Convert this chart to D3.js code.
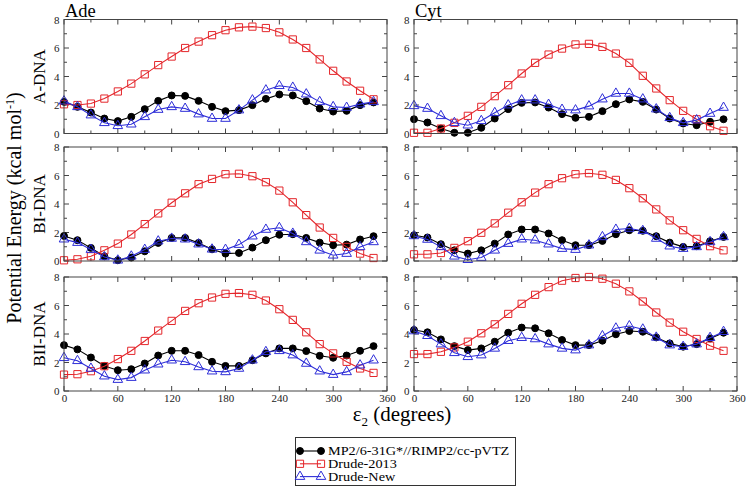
<!DOCTYPE html>
<html>
<head>
<meta charset="utf-8">
<script src="https://cdn.jsdelivr.net/npm/d3@7"></script>
<style>
  html, body { margin: 0; padding: 0; background: #fff; }
  svg { display: block; }
  svg text { font-family: "Liberation Serif", "Times New Roman", "DejaVu Serif", serif !important; }
</style>
</head>
<body>
<svg id="chart" width="750" height="490"></svg>
<script>
// ---------------- DATA ----------------
const angles = [0,15,30,45,60,75,90,105,120,135,150,165,180,195,210,225,240,255,270,285,300,315,330,345];
const xTicks = [0,60,120,180,240,300,360];
const yTicks = [0,2,4,6,8];
const bases = ["Ade", "Cyt"];
const forms = ["A-DNA", "BI-DNA", "BII-DNA"];
const seriesNames = ["MP2/6-31G*//RIMP2/cc-pVTZ", "Drude-2013", "Drude-New"];

// Ade, A-DNA
const adeA_mp2 = [2.22,1.87,1.47,1.05,0.87,1.17,1.71,2.29,2.67,2.64,2.29,1.87,1.57,1.64,1.99,2.43,2.74,2.67,2.27,1.75,1.54,1.59,1.99,2.18];
const adeA_d13 = [2.05,2.0,2.1,2.45,2.95,3.5,4.15,4.8,5.4,6.0,6.45,6.9,7.25,7.45,7.5,7.4,7.1,6.6,6.0,5.2,4.4,3.65,3.0,2.4];
const adeA_new = [2.27,1.87,1.29,0.75,0.54,0.65,1.17,1.68,1.87,1.75,1.36,1.05,1.05,1.64,2.34,3.04,3.35,3.23,2.76,2.22,1.87,1.82,2.06,2.22];
// Cyt, A-DNA
const cytA_mp2 = [1.0,0.77,0.35,0.05,0.05,0.4,1.05,1.71,2.15,2.18,1.82,1.36,1.1,1.17,1.57,2.06,2.39,2.22,1.68,1.05,0.7,0.58,0.82,1.0];
const cytA_d13 = [0.05,0.05,0.35,0.75,1.24,1.87,2.62,3.39,4.21,4.96,5.54,5.96,6.25,6.29,6.08,5.61,4.96,4.05,3.16,2.34,1.59,1.0,0.51,0.19];
const cytA_new = [1.94,1.75,1.24,0.75,0.58,0.89,1.45,1.99,2.34,2.34,2.03,1.68,1.64,1.92,2.41,2.81,2.81,2.41,1.71,1.1,0.75,0.94,1.4,1.82];
// Ade, BI-DNA
const adeBI_mp2 = [1.76,1.46,0.92,0.33,0.05,0.24,0.68,1.27,1.62,1.62,1.27,0.82,0.52,0.56,0.94,1.46,1.84,1.88,1.62,1.29,1.11,1.15,1.51,1.74];
const adeBI_d13 = [0.05,0.12,0.33,0.75,1.22,1.86,2.59,3.34,4.09,4.75,5.39,5.76,6.09,6.12,5.95,5.53,4.94,4.12,3.22,2.35,1.62,0.99,0.52,0.21];
const adeBI_new = [1.53,1.29,0.8,0.28,0.05,0.33,0.8,1.39,1.58,1.53,1.18,0.82,0.8,1.15,1.74,2.21,2.33,1.93,1.34,0.75,0.4,0.52,0.99,1.34];
// Cyt, BI-DNA
const cytBI_mp2 = [1.81,1.65,1.18,0.75,0.52,0.75,1.22,1.86,2.21,2.21,1.93,1.46,1.11,1.11,1.41,1.88,2.16,2.12,1.74,1.29,0.99,1.04,1.39,1.69];
const cytBI_d13 = [0.47,0.47,0.56,0.92,1.39,1.98,2.64,3.39,4.12,4.8,5.39,5.81,6.09,6.16,6.05,5.69,5.11,4.4,3.62,2.85,2.16,1.55,1.04,0.75];
const cytBI_new = [1.76,1.51,0.99,0.33,0.09,0.24,0.75,1.22,1.53,1.46,1.18,0.87,0.8,1.11,1.69,2.21,2.28,2.12,1.58,1.04,0.87,0.99,1.34,1.69];
// Ade, BII-DNA
const adeBII_mp2 = [3.22,2.92,2.35,1.76,1.46,1.53,1.93,2.49,2.82,2.82,2.52,2.05,1.76,1.76,2.16,2.64,2.99,2.99,2.8,2.47,2.33,2.49,2.82,3.15];
const adeBII_d13 = [1.15,1.18,1.39,1.74,2.24,2.82,3.51,4.24,4.92,5.62,6.16,6.56,6.82,6.87,6.75,6.35,5.74,4.99,4.12,3.29,2.64,2.05,1.58,1.27];
const adeBII_new = [2.33,2.12,1.58,1.04,0.8,0.94,1.46,1.88,2.16,2.05,1.69,1.39,1.34,1.58,2.16,2.75,2.82,2.52,1.93,1.39,1.15,1.34,1.81,2.16];
// Cyt, BII-DNA
const cytBII_mp2 = [4.28,4.12,3.62,3.15,2.87,2.99,3.46,4.09,4.45,4.4,4.05,3.58,3.22,3.22,3.53,3.98,4.21,4.16,3.76,3.34,3.11,3.29,3.69,4.09];
const cytBII_d13 = [2.59,2.59,2.75,3.06,3.46,4.05,4.68,5.41,6.12,6.75,7.29,7.74,7.93,8.0,7.88,7.53,6.99,6.28,5.51,4.8,4.16,3.65,3.18,2.82];
const cytBII_new = [4.21,3.88,3.29,2.68,2.4,2.52,2.99,3.53,3.74,3.65,3.29,2.99,2.87,3.22,3.86,4.4,4.56,4.33,3.76,3.22,3.11,3.29,3.74,4.16];

// ---------------- LAYOUT / STYLE ----------------
const svg = d3.select("#chart");
const colX = [64, 414];
const rowY = [19.5, 147, 277];
const pw = 323, ph = 114;
const colors = ["#000000", "#e4262b", "#2e2ed8"];
const symbols = [d3.symbolCircle, d3.symbolSquare, d3.symbolTriangle];
const symSizes = [38, 52, 40];
const symFill = ["#000000", "none", "none"];

const panels = [
  { col: 0, row: 0, data: [adeA_mp2, adeA_d13, adeA_new] },
  { col: 1, row: 0, data: [cytA_mp2, cytA_d13, cytA_new] },
  { col: 0, row: 1, data: [adeBI_mp2, adeBI_d13, adeBI_new] },
  { col: 1, row: 1, data: [cytBI_mp2, cytBI_d13, cytBI_new] },
  { col: 0, row: 2, data: [adeBII_mp2, adeBII_d13, adeBII_new] },
  { col: 1, row: 2, data: [cytBII_mp2, cytBII_d13, cytBII_new] }
];

const x = d3.scaleLinear().domain([0, 360]).range([0, pw]);
const y = d3.scaleLinear().domain([0, 8]).range([ph, 0]);
const xMinor = d3.range(0, 361, 30);
const yMinor = d3.range(0, 8.01, 1);
const frameColor = "#444";

panels.forEach(p => {
  const g = svg.append("g").attr("transform", `translate(${colX[p.col]},${rowY[p.row]})`);

  // inward ticks on all four sides
  const tg = g.append("g").attr("stroke", frameColor).attr("stroke-width", 1);
  xMinor.forEach(v => {
    const len = (v % 60 === 0) ? 5 : 3;
    tg.append("line").attr("x1", x(v)).attr("x2", x(v)).attr("y1", ph).attr("y2", ph - len);
    tg.append("line").attr("x1", x(v)).attr("x2", x(v)).attr("y1", 0).attr("y2", len);
  });
  yMinor.forEach(v => {
    const len = (v % 2 === 0) ? 5 : 3;
    tg.append("line").attr("x1", 0).attr("x2", len).attr("y1", y(v)).attr("y2", y(v));
    tg.append("line").attr("x1", pw).attr("x2", pw - len).attr("y1", y(v)).attr("y2", y(v));
  });

  // y tick labels
  const yAxis = d3.axisLeft(y).tickValues(yTicks).tickSize(0).tickPadding(4.5).tickFormat(d3.format("d"));
  const ya = g.append("g").call(yAxis);
  ya.select(".domain").remove();
  ya.selectAll("text").attr("font-size", 11).attr("fill", "#222");

  // x tick labels on bottom row
  if (p.row === 2) {
    const xAxis = d3.axisBottom(x).tickValues(xTicks).tickSize(0).tickPadding(3).tickFormat(d3.format("d"));
    const xa = g.append("g").attr("transform", `translate(0,${ph})`).call(xAxis);
    xa.select(".domain").remove();
    xa.selectAll("text").attr("font-size", 11).attr("fill", "#222");
  }

  // series: black, red, blue (blue on top)
  p.data.forEach((vals, si) => {
    const pts = angles.map((a, i) => [a, vals[i]]);
    g.append("path")
      .datum(pts)
      .attr("fill", "none")
      .attr("stroke", colors[si])
      .attr("stroke-width", 1.1)
      .attr("d", d3.line().x(d => x(d[0])).y(d => y(d[1])));
    g.append("g").selectAll("path")
      .data(pts)
      .join("path")
      .attr("transform", d => `translate(${x(d[0])},${y(d[1])})`)
      .attr("d", d3.symbol().type(symbols[si]).size(symSizes[si]))
      .attr("fill", symFill[si])
      .attr("stroke", colors[si])
      .attr("stroke-width", 1);
  });

  // frame
  g.append("rect").attr("width", pw).attr("height", ph)
    .attr("fill", "none").attr("stroke", frameColor).attr("stroke-width", 1);
});

// column titles
bases.forEach((b, i) => {
  svg.append("text").attr("x", colX[i] + 1).attr("y", 17)
    .attr("font-size", 18.5).attr("fill", "#000").text(b);
});

// row labels
forms.forEach((f, i) => {
  const cy = rowY[i] + ph / 2;
  svg.append("text")
    .attr("transform", `translate(45,${cy}) rotate(-90)`)
    .attr("text-anchor", "middle")
    .attr("font-size", 17).attr("fill", "#000").text(f);
});

// y axis title
const yt = svg.append("text")
  .attr("transform", `translate(21,${208}) rotate(-90)`)
  .attr("text-anchor", "middle")
  .attr("font-size", 20).attr("fill", "#000");
yt.append("tspan").text("Potential Energy (kcal mol");
yt.append("tspan").attr("dy", -7).attr("font-size", 12).text("-1");
yt.append("tspan").attr("dy", 7).text(")");

// x axis title
const xt = svg.append("text")
  .attr("x", 402).attr("y", 421)
  .attr("text-anchor", "middle")
  .attr("font-size", 21).attr("fill", "#000");
xt.append("tspan").text("ε");
xt.append("tspan").attr("dy", 5).attr("font-size", 13).text("2");
xt.append("tspan").attr("dy", -5).text(" (degrees)");

// legend
const lg = svg.append("g");
lg.append("rect").attr("x", 295.5).attr("y", 437.5).attr("width", 220).attr("height", 48)
  .attr("fill", "#fff").attr("stroke", "#333").attr("stroke-width", 1);
const legY = [451, 463.8, 476.6];
seriesNames.forEach((n, si) => {
  const ly = legY[si];
  lg.append("line").attr("x1", 300).attr("x2", 321).attr("y1", ly).attr("y2", ly)
    .attr("stroke", colors[si]).attr("stroke-width", 1.1);
  [300, 321].forEach(px => {
    lg.append("path").attr("transform", `translate(${px},${ly})`)
      .attr("d", d3.symbol().type(symbols[si]).size(symSizes[si]))
      .attr("fill", symFill[si]).attr("stroke", colors[si]).attr("stroke-width", 1);
  });
  const t = lg.append("text").attr("x", 328).attr("y", ly + 4.3)
    .attr("font-size", 12.5).attr("fill", "#000").text(n);
  const len = t.node().getComputedTextLength();
  t.attr("textLength", len * 1.14).attr("lengthAdjust", "spacingAndGlyphs");
});
</script>
</body>
</html>
